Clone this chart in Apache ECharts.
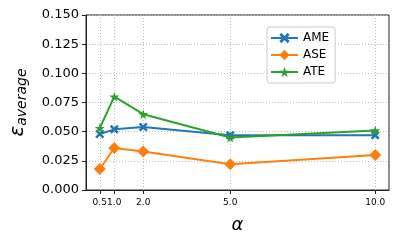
<!DOCTYPE html>
<html><head><meta charset="utf-8">
<script src="https://cdn.jsdelivr.net/npm/echarts@6/dist/echarts.min.js"></script>
<style>html,body{margin:0;padding:0;background:#fff}#c{width:399px;height:242px}</style>
</head><body><div id="c"></div>
<script>
const alphas = [0.5, 1.0, 2.0, 5.0, 10.0];
const xTickLabels = ['0.5', '1.0', '2.0', '5.0', '10.0'];
const yTicks = [0, 0.025, 0.05, 0.075, 0.1, 0.125, 0.15];
const seriesNames = ['AME', 'ASE', 'ATE'];
const ame = [0.048, 0.052, 0.054, 0.047, 0.047];
const ase = [0.018, 0.036, 0.033, 0.022, 0.030];
const ate = [0.053, 0.080, 0.065, 0.045, 0.051];
const colors = ['#1f77b4', '#ff7f0e', '#2ca02c'];

const xPath = 'path://M2,0 L5,3 L8,0 L10,2 L7,5 L10,8 L8,10 L5,7 L2,10 L0,8 L3,5 L0,2 Z';
const starPath = 'path://M50,0 L61,35 L98,35 L68,57 L79,91 L50,70 L21,91 L32,57 L2,35 L39,35 Z';
const symbols = [xPath, 'diamond', starPath];
const symbolSizes = [9, 12, 10];
const values = [ame, ase, ate];

const chart = echarts.init(document.getElementById('c'), null, {renderer: 'canvas'});
const font = 'DejaVu Sans';
chart.setOption({
  animation: false,
  textStyle: {fontFamily: font},
  grid: {left: 82, right: 10, top: 15, bottom: 52, show: true, borderColor: '#222', borderWidth: 1},
  legend: {
    data: seriesNames,
    orient: 'vertical',
    left: 267, top: 27,
    itemWidth: 27, itemHeight: 13,
    itemGap: 5,
    padding: [5, 6, 5, 3],
    borderColor: '#ccc', borderWidth: 1, borderRadius: 3,
    backgroundColor: 'rgba(255,255,255,0.8)',
    textStyle: {fontFamily: font, fontSize: 12, color: '#000'}
  },
  xAxis: {
    type: 'value', min: 0.025, max: 10.475,
    name: 'α', nameLocation: 'middle', nameGap: 26,
    nameTextStyle: {fontFamily: font, fontSize: 18, fontStyle: 'italic', color: '#000'},
    axisLine: {show: true, lineStyle: {color: '#222'}},
    axisTick: {show: true, length: 4, lineStyle: {color: '#222'}, customValues: alphas},
    axisLabel: {customValues: alphas, fontSize: 9, color: '#000', margin: 8,
      hideOverlap: false,
      formatter: v => xTickLabels[alphas.indexOf(v)] || ''},
    splitLine: {show: true, lineStyle: {color: '#bbb', type: [1, 2], width: 1}}
  },
  yAxis: {
    type: 'value', min: 0, max: 0.15, interval: 0.025,
    name: '{e|ε}{s|average}', nameLocation: 'middle', nameGap: 57, nameRotate: 90,
    nameTextStyle: {
      rich: {
        e: {fontFamily: font, fontSize: 20, fontStyle: 'italic', color: '#000'},
        s: {fontFamily: font, fontSize: 14, fontStyle: 'italic', color: '#000', verticalAlign: 'bottom', padding: [8, 0, 0, 0]}
      }
    },
    axisLine: {show: true, lineStyle: {color: '#222'}},
    axisTick: {show: true, length: 4, lineStyle: {color: '#222'}},
    axisLabel: {fontSize: 13, color: '#000', margin: 7, formatter: v => v.toFixed(3)},
    splitLine: {show: true, lineStyle: {color: '#bbb', type: [1, 2], width: 1}}
  },
  series: seriesNames.map((n, i) => ({
    name: n, type: 'line',
    data: alphas.map((a, j) => [a, values[i][j]]),
    symbol: symbols[i], symbolSize: symbolSizes[i], showAllSymbol: true,
    lineStyle: {color: colors[i], width: 2},
    itemStyle: {color: colors[i]},
    z: 3 + i
  }))
});
</script></body></html>
